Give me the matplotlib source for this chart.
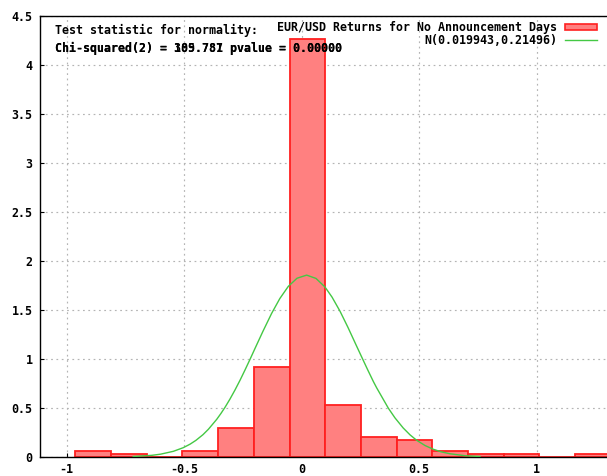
import numpy as np
import matplotlib
matplotlib.use("Agg")
import matplotlib.pyplot as plt
from matplotlib.patches import Rectangle
from matplotlib.lines import Line2D

plt.rcParams["axes.unicode_minus"] = False
plt.rcParams["font.family"] = ["DejaVu Sans Mono"]
plt.rcParams["font.weight"] = "bold"

# histogram (density)
bin_left = -0.963
bin_width = 0.1519
density = [0.061, 0.027, 0.0, 0.061, 0.293, 0.920, 4.265, 0.534,
           0.201, 0.170, 0.061, 0.027, 0.027, 0.0, 0.027]

# fitted normal curve
curve_x = [-0.717, -0.638, -0.600, -0.546, -0.504, -0.475, -0.450, -0.420,
           -0.397, -0.362, -0.344, -0.326, -0.305, -0.284, -0.262, -0.241,
           -0.220, -0.199, -0.165, -0.128, -0.093, -0.057, -0.020, 0.021,
           0.061, 0.099, 0.129, 0.163, 0.197, 0.234, 0.255, 0.280, 0.305,
           0.319, 0.369, 0.397, 0.432, 0.461, 0.489, 0.525, 0.560, 0.593,
           0.631, 0.695, 0.759]
curve_y = [0.005, 0.017, 0.029, 0.058, 0.095, 0.131, 0.170, 0.228,
           0.283, 0.383, 0.443, 0.508, 0.592, 0.683, 0.785, 0.889,
           0.996, 1.106, 1.282, 1.465, 1.617, 1.741, 1.824, 1.856,
           1.822, 1.735, 1.632, 1.488, 1.322, 1.130, 1.022, 0.894, 0.770,
           0.706, 0.497, 0.399, 0.296, 0.226, 0.171, 0.117, 0.079, 0.053,
           0.033, 0.013, 0.005]

xticks = [-1, -0.5, 0, 0.5, 1]
xtick_labels = ["-1", "-0.5", "0", "0.5", "1"]
yticks = [0, 0.5, 1, 1.5, 2, 2.5, 3, 3.5, 4, 4.5]
ytick_labels = ["0", "0.5", "1", "1.5", "2", "2.5", "3", "3.5", "4", "4.5"]

hist_label = "EUR/USD Returns for No Announcement Days"
curve_label = "N(0.019943,0.21496)"

W, H = 607, 476
fig = plt.figure(figsize=(W / 100, H / 100), dpi=100)
# right border of the plot lies outside the picture
ax = fig.add_axes([39.5 / W, 19 / H, (620 - 39.5) / W, 441 / H])
ax.set_xlim(-1.1157, 1.3545)
ax.set_ylim(0, 4.5)

edges = bin_left + bin_width * np.arange(len(density))
ax.bar(edges, density, width=bin_width, align="edge",
       color="#ff8080", edgecolor="#ff2020", linewidth=1.3, zorder=2)
ax.plot(curve_x, curve_y, color="#44c844", linewidth=1.0, zorder=3)

ax.set_xticks(xticks)
ax.set_xticklabels(xtick_labels)
ax.set_yticks(yticks)
ax.set_yticklabels(ytick_labels)
ax.tick_params(direction="in", length=3, width=0.8, labelsize=8.4,
               colors="black")
ax.tick_params(axis="x", pad=4.5)
ax.tick_params(axis="y", pad=5)
ax.grid(True, color="#b4b4b4", linestyle=(0, (1.5, 3)), linewidth=0.85, zorder=0)
ax.set_axisbelow(True)
for side in ["left", "bottom", "top"]:
    ax.spines[side].set_linewidth(1.0)
ax.spines["right"].set_visible(False)

fs = 8.4
ax.text(55 / W, 1 - 30 / H, "Test statistic for normality:", transform=fig.transFigure,
        fontsize=fs, va="center", ha="left", zorder=5)
# two overprinted labels, as in the source picture
ax.text(55 / W, 1 - 48 / H, "Chi-squared(2) = 389.787 pvalue = 0.00000",
        transform=fig.transFigure, fontsize=fs, va="center", ha="left", zorder=5)
ax.text(55 / W, 1 - 48 / H, "Chi-squared(2) = 105.781 pvalue = 0.00000",
        transform=fig.transFigure, fontsize=fs, va="center", ha="left", zorder=5)

# key, top right
fig.text(557 / W, 1 - 27 / H, hist_label, fontsize=fs, ha="right", va="center")
fig.text(557 / W, 1 - 40 / H, curve_label, fontsize=fs, ha="right", va="center")
fig.patches.append(Rectangle((565 / W, 1 - 29.5 / H), 32 / W, 6 / H,
                             transform=fig.transFigure, facecolor="#ff8080",
                             edgecolor="#ff2020", linewidth=1.2))
fig.lines.append(Line2D([565 / W, 597 / W], [1 - 39.5 / H, 1 - 39.5 / H],
                        transform=fig.transFigure, color="#44c844", linewidth=1.0))

fig.savefig("out.png", dpi=100)
